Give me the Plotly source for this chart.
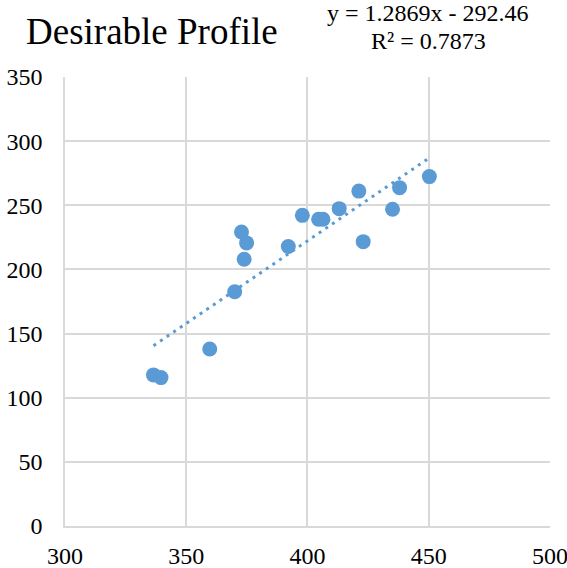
import plotly.graph_objects as go

# Data
x_vals = [336.5, 339.6, 359.7, 370.0, 372.8, 373.9, 374.9, 392.1, 397.9,
          404.6, 406.4, 413.1, 421.2, 423.0, 435.1, 438.0, 450.3]
y_vals = [117.8, 115.7, 138.0, 182.6, 229.2, 208.0, 220.7, 217.9, 242.2,
          239.1, 239.1, 247.4, 261.1, 221.7, 247.0, 263.8, 272.4]
slope = 1.2869
intercept = -292.46
r2 = 0.7873
title_text = "Desirable Profile"
x_ticks = [300, 350, 400, 450, 500]
y_ticks = [0, 50, 100, 150, 200, 250, 300, 350]

blue = "#5b9bd5"
grid = "#d9d9d9"
font_family = "'Liberation Serif', 'Times New Roman', Times, 'DejaVu Serif', serif"

tx = [min(x_vals), max(x_vals)]
ty = [slope * v + intercept for v in tx]

fig = go.Figure()
fig.add_trace(go.Scatter(x=tx, y=ty, mode="lines",
                         line=dict(color=blue, width=3, dash="3px,5px"),
                         hoverinfo="skip", showlegend=False))
fig.add_trace(go.Scatter(x=x_vals, y=y_vals, mode="markers",
                         marker=dict(color=blue, size=15, line=dict(width=0)),
                         showlegend=False))

W, H = 567, 568
ml, mr, mt, mb = 65, 17, 77, 42
pw = W - ml - mr
ph = H - mt - mb

def py(pix):
    return (H - mb - pix) / ph

def px(pix):
    return (pix - ml) / pw

fig.update_layout(
    width=W, height=H,
    margin=dict(l=ml, r=mr, t=mt, b=mb, pad=0, autoexpand=False),
    paper_bgcolor="white", plot_bgcolor="white",
    font=dict(family=font_family, size=24, color="#000000"),
    title=dict(text=title_text, x=26 / W, xanchor="left", xref="container",
               y=1 - 31 / H, yanchor="middle", yref="container",
               font=dict(family=font_family, size=37, color="#000000")),
    annotations=[
        dict(text=f"y = {slope}x - {abs(intercept)}", x=px(428), xref="paper",
             y=py(12.6), yref="paper", xanchor="center", yanchor="middle",
             showarrow=False, font=dict(family=font_family, size=24, color="#000000")),
        dict(text=f"R² = {r2}", x=px(428), xref="paper",
             y=py(40.6), yref="paper", xanchor="center", yanchor="middle",
             showarrow=False, font=dict(family=font_family, size=24, color="#000000")),
    ],
    xaxis=dict(range=[300, 500.05], tickvals=x_ticks, showgrid=True, gridcolor=grid,
               gridwidth=1.5, zeroline=False, showline=True, linecolor=grid,
               linewidth=1.5, ticks="", ticklabelstandoff=7, automargin=False,
               ticklabeloverflow="allow",
               tickfont=dict(family=font_family, size=24, color="#000000")),
    yaxis=dict(range=[0, 350.05], tickvals=y_ticks, showgrid=True, gridcolor=grid,
               gridwidth=1.5, zeroline=False, showline=True, linecolor=grid,
               linewidth=1.5, ticks="", ticklabelstandoff=16, automargin=False,
               tickfont=dict(family=font_family, size=24, color="#000000")),
)

fig.write_html("out.html",
               config={"displayModeBar": False},
               post_script="document.body.style.margin='0';document.body.style.overflow='hidden';")
